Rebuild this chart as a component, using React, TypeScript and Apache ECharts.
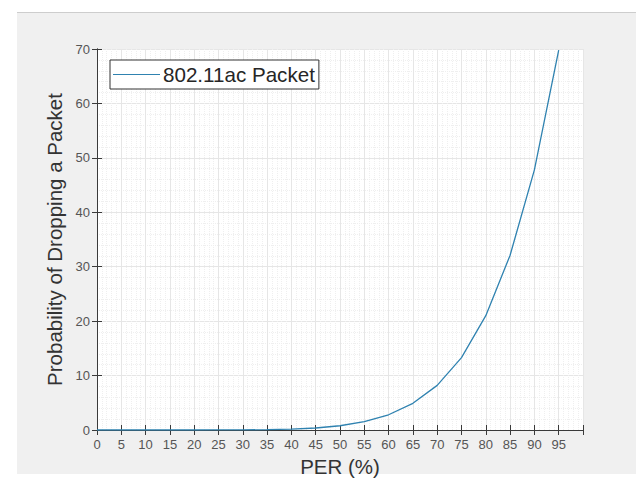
import React, { useEffect, useRef } from "react";
import * as echarts from "echarts";

// Packet error rate (%) sampled every 5 points
const perValues = [0, 5, 10, 15, 20, 25, 30, 35, 40, 45, 50, 55, 60, 65, 70, 75, 80, 85, 90, 95];
// Probability of dropping a packet (%) at each PER value
const dropProbability = [0, 0, 0, 0, 0, 0.01, 0.02, 0.06, 0.16, 0.37, 0.78, 1.52, 2.8, 4.9, 8.2, 13.3, 21.0, 32.1, 47.8, 69.8];

const seriesName = "802.11ac Packet";
const xTitle = "PER (%)";
const yTitle = "Probability of Dropping a Packet";

const FONT = "'Liberation Sans', Arial, Helvetica, sans-serif";

export default function App() {
  const ref = useRef<HTMLDivElement>(null);

  useEffect(() => {
    document.body.style.margin = "0";
    if (!ref.current) return;
    const chart = echarts.init(ref.current, undefined, { renderer: "svg" });

    const tickStyle = { show: true, inside: true, length: 5, lineStyle: { color: "#3a3a3a", width: 1 } };
    const axisLine = { show: true, lineStyle: { color: "#3a3a3a", width: 1 } };

    chart.setOption({
      animation: false,
      backgroundColor: "#ffffff",
      textStyle: { fontFamily: FONT },
      graphic: [
        { type: "rect", z: -10, shape: { x: 17, y: 12, width: 620, height: 462 }, style: { fill: "#f0f0f0" } },
        { type: "line", z: -9, shape: { x1: 17, y1: 12.5, x2: 636, y2: 12.5 }, style: { stroke: "#cdcdcd", lineWidth: 1 } },
      ],
      grid: {
        left: 97,
        right: 53,
        top: 49,
        bottom: 52,
        show: true,
        backgroundColor: "#ffffff",
        borderWidth: 0,
      },
      legend: {
        left: 110,
        top: 60,
        orient: "vertical",
        backgroundColor: "#ffffff",
        borderColor: "#333333",
        borderWidth: 1,
        borderRadius: 0,
        padding: [4, 4, 4, 3],
        itemWidth: 47,
        itemHeight: 14,
        textStyle: { fontSize: 20.6, color: "#262626", fontFamily: FONT, padding: [0, 0, 0, -2] },
        data: [{ name: seriesName, icon: "path://M0,7 L47,7 L47,8 L0,8 Z" }],
      },
      xAxis: [
        {
          type: "value",
          min: 0,
          max: 100,
          interval: 5,
          name: xTitle,
          nameLocation: "middle",
          nameGap: 23,
          nameTextStyle: { fontSize: 20.5, color: "#333333", fontFamily: FONT },
          axisLine,
          axisTick: tickStyle,
          axisLabel: {
            fontSize: 13,
            color: "#555555",
            margin: 8,
            fontFamily: FONT,
            formatter: (v: number) => (v >= 100 ? "" : String(v)),
          },
          splitLine: { show: true, lineStyle: { color: "#e6e6e6", width: 1 } },
          minorTick: { show: false, splitNumber: 5 },
          minorSplitLine: { show: true, lineStyle: { color: "#efefef", width: 1, type: "dotted" } },
        },
        {
          type: "value",
          position: "top",
          min: 0,
          max: 100,
          interval: 5,
          axisLine,
          axisTick: tickStyle,
          axisLabel: { show: false },
          splitLine: { show: false },
        },
      ],
      yAxis: [
        {
          type: "value",
          min: 0,
          max: 70,
          interval: 10,
          name: yTitle,
          nameLocation: "middle",
          nameGap: 22,
          nameTextStyle: { fontSize: 20.5, color: "#333333", fontFamily: FONT },
          axisLine,
          axisTick: tickStyle,
          axisLabel: { fontSize: 13, color: "#555555", margin: 7, fontFamily: FONT },
          splitLine: { show: true, lineStyle: { color: "#e6e6e6", width: 1 } },
          minorTick: { show: false, splitNumber: 5 },
          minorSplitLine: { show: true, lineStyle: { color: "#efefef", width: 1, type: "dotted" } },
        },
        {
          type: "value",
          position: "right",
          min: 0,
          max: 70,
          interval: 10,
          axisLine,
          axisTick: tickStyle,
          axisLabel: { show: false },
          splitLine: { show: false },
        },
      ],
      series: [
        {
          name: seriesName,
          type: "line",
          xAxisIndex: 0,
          yAxisIndex: 0,
          symbol: "none",
          clip: true,
          lineStyle: { color: "#2f82b0", width: 1.3 },
          itemStyle: { color: "#2f82b0" },
          data: perValues.map((x, i) => [x, dropProbability[i]]),
        },
      ],
    });

    return () => chart.dispose();
  }, []);

  return <div ref={ref} style={{ width: 636, height: 482 }} />;
}
